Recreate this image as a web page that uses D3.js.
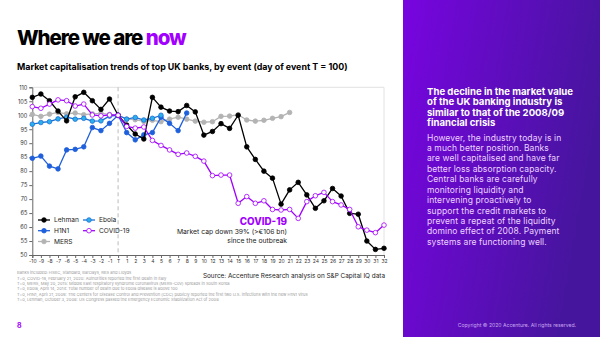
<!DOCTYPE html>
<html lang="en">
<head>
<meta charset="utf-8">
<title>UK banks market cap by event</title>
<script src="https://cdn.jsdelivr.net/npm/d3@7"></script>
<style>
 body { margin: 0; background: #fff; }
 svg { display: block; font-family: Inter, "Noto Sans", sans-serif; }
</style>
</head>
<body>
<div id="chart"></div>
<script>
// categories (note: the source chart skips day 11)
const categories = ["-10","-9","-8","-7","-6","-5","-4","-3","-2","-1","T",
  "1","2","3","4","5","6","7","8","9","10",
  "12","13","14","15","16","17","18","19","20","21","22","23","24","25","26","27","28","29","30","31","32"];
const yTicks = [50,55,60,65,70,75,80,85,90,95,100,105,110];

const lehman = [106.4,107.6,105.2,101.5,98.0,106.6,108.2,105.2,102.1,105.8,100,
  96.5,93.3,91.5,106.4,102.9,101.5,101.3,103.5,101.2,92.9,
  94.2,97.0,95.3,100,88.7,84.2,80.0,77.5,68.2,73.3,76.0,71.5,66.7,69.4,73.8,71.1,64.9,64.6,55.0,52.0,52.4];
const h1n1 = [84.6,85.4,81.8,80.8,87.6,87.8,88.7,95.6,94.5,97.1,100,
  93.8,91.2,93.0,93.8,99.3,97.1,94.5,100.8];
const ebola = [96.8,97.4,97.7,98.7,99.3,98.6,98.9,97.9,98.0,99.7,100,
  98.6,99.2,98.3,98.9,100.0];
const mers = [100.3,99.6,100.4,101.0,100.5,100.8,100.2,100.5,100.7,100.3,100,
  98.6,98.4,97.8,98.2,97.7,98.6,99.3,98.6,97.9,97.5,
  97.7,99.6,99.7,100.2,98.3,97.9,98.2,98.9,99.5,101.0];
const covid = [103.1,102.5,104.0,105.5,105.2,103.3,104.0,100.1,99.8,100.1,100,
  96.0,95.4,95.8,91.0,89.2,87.6,86.0,86.5,85.3,83.6,
  78.4,78.6,78.6,68.5,70.9,68.5,69.4,66.3,66.1,66.3,63.1,69.1,71.2,72.4,69.1,67.9,66.3,60.1,58.9,58.0,60.7];

const footnotes = [
  "Banks included: HSBC, Standard, Barclays, RBS and Lloyds",
  "T=0, COVID-19, February 21, 2020: Authorities reported the first death in Italy",
  "T=0, MERS, May 20, 2015: Middle East respiratory syndrome coronavirus (MERS-CoV) spreads in South Korea",
  "T=0, Ebola, April 14, 2014: Total number of death due to Ebola disease is above 100",
  "T=0, H1N1, April 21, 2009: The Centers for Disease Control and Prevention (CDC) publicly reported the first two U.S. infections with the new H1N1 virus",
  "T=0, Lehman, October 3, 2008: US Congress passed the Emergency Economic Stabilization Act of 2008"
];
const panelHead = ["The decline in the market value","of the UK banking industry is","similar to that of the 2008/09","financial crisis"];
const panelBody = ["However, the industry today is in","a much better position. Banks","are well capitalised and have far",
  "better loss absorption capacity.","Central banks are carefully","monitoring liquidity and",
  "intervening proactively to","support the credit markets to","prevent a repeat of the liquidity",
  "domino effect of 2008. Payment","systems are functioning well."];

const W = 600, H = 337;
const svg = d3.select("#chart").append("svg").attr("width", W).attr("height", H);

// purple side panel
const defs = svg.append("defs");
const grad = defs.append("linearGradient").attr("id", "pg").attr("x1", 0).attr("x2", 1).attr("y1", 0).attr("y2", 0.3);
grad.append("stop").attr("offset", "0%").attr("stop-color", "#7804e0");
grad.append("stop").attr("offset", "100%").attr("stop-color", "#46159e");
svg.append("rect").attr("x", 403).attr("y", 0).attr("width", 197).attr("height", H).attr("fill", "url(#pg)");

// title
const title = svg.append("text").attr("x", 17).attr("y", 45)
  .style("font-size", "20.5px").style("font-weight", 800).style("letter-spacing", "-1.1px");
title.append("tspan").attr("fill", "#000").text("Where we are ");
title.append("tspan").attr("fill", "#a100ff").text("now");

svg.append("text").attr("x", 17).attr("y", 70)
  .style("font-size", "8.9px").style("font-weight", 700).attr("fill", "#000")
  .text("Market capitalisation trends of top UK banks, by event (day of event T = 100)");

// scales
const x = d3.scalePoint().domain(categories).range([32.3, 384]);
const y = d3.scaleLinear().domain([50, 110]).range([255, 87.3]);

const g = svg.append("g");

// frame
g.append("path").attr("d", `M${x.range()[0]},${y(110)}H${x.range()[1]}V${y(50)}`)
  .attr("fill", "none").attr("stroke", "#e2e2e2").attr("stroke-width", 1);

// dashed T line
g.append("line").attr("x1", x("T")).attr("x2", x("T")).attr("y1", y(110)).attr("y2", y(50))
  .attr("stroke", "#bbb").attr("stroke-width", 1).attr("stroke-dasharray", "4,3");

// axes
const yAxis = g.append("g").attr("transform", `translate(${x.range()[0]},0)`)
  .call(d3.axisLeft(y).tickValues(yTicks).tickSize(3).tickPadding(2));
const xAxis = g.append("g").attr("transform", `translate(0,${y(50)})`)
  .call(d3.axisBottom(x).tickSize(3).tickPadding(1.5));
[yAxis, xAxis].forEach(a => {
  a.select(".domain").attr("stroke", "#666");
  a.selectAll(".tick line").attr("stroke", "#666");
  a.selectAll("text").attr("fill", "#333").style("font-family", "Inter, sans-serif");
});
yAxis.selectAll("text").style("font-size", "5.6px");
xAxis.selectAll("text").style("font-size", "5px");

// series
const series = [
  {name: "MERS", data: mers, stroke: "#b3b3b3", fill: "#b3b3b3"},
  {name: "H1N1", data: h1n1, stroke: "#1e5fdc", fill: "#1e5fdc"},
  {name: "Ebola", data: ebola, stroke: "#1e6fd8", fill: "#2ab0ea"},
  {name: "Lehman", data: lehman, stroke: "#000", fill: "#000"},
  {name: "COVID-19", data: covid, stroke: "#a100ff", fill: "#fff"}
];
const line = d3.line().x((d, i) => x(categories[i])).y(d => y(d));
series.forEach(s => {
  g.append("path").attr("d", line(s.data)).attr("fill", "none")
    .attr("stroke", s.stroke).attr("stroke-width", 1.3).attr("stroke-linejoin", "round");
  g.append("g").selectAll("circle").data(s.data).join("circle")
    .attr("cx", (d, i) => x(categories[i])).attr("cy", d => y(d)).attr("r", 2.3)
    .attr("fill", s.fill).attr("stroke", s.stroke).attr("stroke-width", 0.8);
});

// legend
const legendPos = {"Lehman": [38, 220], "H1N1": [38, 230.7], "MERS": [38, 241.5], "Ebola": [83, 220], "COVID-19": [83, 230.7]};
series.forEach(s => {
  const [lx, ly] = legendPos[s.name];
  const lg = g.append("g").attr("transform", `translate(${lx},${ly})`);
  lg.append("line").attr("x1", 0).attr("x2", 12).attr("stroke", s.stroke).attr("stroke-width", 1.3);
  lg.append("circle").attr("cx", 6).attr("r", 2.3).attr("fill", s.fill).attr("stroke", s.stroke).attr("stroke-width", 0.8);
  lg.append("text").attr("x", 16).attr("dy", "0.35em").style("font-size", "6.6px").attr("fill", "#222").text(s.name);
});

// annotation
g.append("text").attr("x", 287).attr("y", 225).attr("text-anchor", "end")
  .style("font-size", "9.8px").style("font-weight", 800).attr("fill", "#a100ff").text("COVID-19");
g.append("text").attr("x", 287).attr("y", 234).attr("text-anchor", "end")
  .style("font-size", "6.8px").attr("fill", "#222").text("Market cap down 39% (>€106 bn)");
g.append("text").attr("x", 287).attr("y", 242.5).attr("text-anchor", "end")
  .style("font-size", "6.8px").attr("fill", "#222").text("since the outbreak");

// source + footnotes
svg.append("text").attr("x", 385).attr("y", 277.5).attr("text-anchor", "end")
  .style("font-size", "6.4px").attr("fill", "#222").text("Source: Accenture Research analysis on S&P Capital IQ data");
svg.append("g").selectAll("text").data(footnotes).join("text")
  .attr("x", 17).attr("y", (d, i) => 274.3 + i * 5.3)
  .style("font-size", "4.1px").attr("fill", "#9a9a9a").text(d => d);

// page number + copyright
svg.append("text").attr("x", 17).attr("y", 327.5).style("font-size", "7px").style("font-weight", 700)
  .attr("fill", "#a100ff").text("8");
svg.append("text").attr("x", 576).attr("y", 327).attr("text-anchor", "end")
  .style("font-size", "5.1px").attr("fill", "#c9a6f0").text("Copyright © 2020 Accenture. All rights reserved.");

// panel text
svg.append("g").selectAll("text").data(panelHead).join("text")
  .attr("x", 427).attr("y", (d, i) => 94.5 + i * 10.6)
  .style("font-size", "9.6px").style("font-weight", 700).attr("fill", "#fff").text(d => d);
svg.append("g").selectAll("text").data(panelBody).join("text")
  .attr("x", 427).attr("y", (d, i) => 140.5 + i * 10.44)
  .style("font-size", "8.5px").style("letter-spacing", "0.1px").attr("fill", "#ecd2ff").text(d => d);
</script>
</body>
</html>
